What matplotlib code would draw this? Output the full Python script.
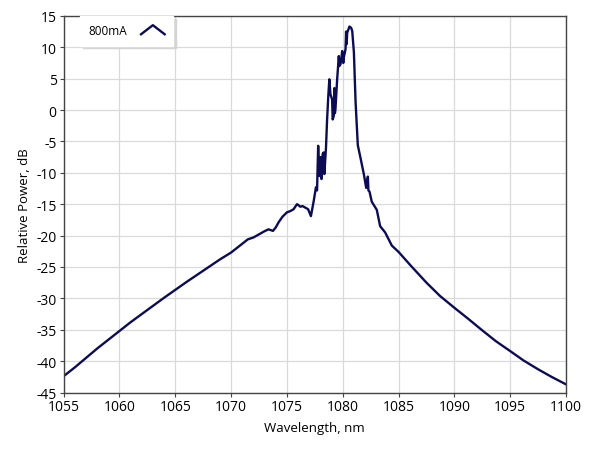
import matplotlib.pyplot as plt
from matplotlib.legend_handler import HandlerBase
from matplotlib.lines import Line2D

plt.rcParams['font.family'] = ['Open Sans', 'DejaVu Sans']
plt.rcParams['axes.unicode_minus'] = False

wavelength = [1055.0, 1056.0, 1057.0, 1058.0, 1059.0, 1060.0, 1061.0, 1062.0, 1063.0, 1064.0,
              1065.0, 1066.0, 1067.0, 1068.0, 1069.0, 1070.0, 1071.0, 1071.5, 1072.0, 1072.6,
              1073.0, 1073.35, 1073.75, 1074.0, 1074.25, 1074.6, 1075.0, 1075.3, 1075.6, 1075.9,
              1076.0, 1076.2, 1076.4, 1076.6, 1076.9, 1077.15, 1077.4, 1077.6, 1077.7, 1077.8,
              1077.9, 1078.0, 1078.05, 1078.1, 1078.2, 1078.3, 1078.35, 1078.4, 1078.5, 1078.6,
              1078.7, 1078.8, 1078.9, 1079.05, 1079.1, 1079.2, 1079.25, 1079.3, 1079.35, 1079.5,
              1079.65, 1079.7, 1079.8, 1079.9, 1079.95, 1080.05, 1080.1, 1080.25, 1080.3, 1080.35,
              1080.4, 1080.5, 1080.6, 1080.75, 1080.85, 1081.0, 1081.15, 1081.35, 1081.6, 1081.9,
              1082.1, 1082.25, 1082.3, 1082.4, 1082.6, 1083.05, 1083.35, 1083.8, 1084.4, 1085.0,
              1086.1, 1087.5, 1088.7, 1090.0, 1091.2, 1092.5, 1093.7, 1095.0, 1096.2, 1097.5,
              1098.7, 1100.0]
power_800mA = [-42.4, -41.0, -39.5, -38.0, -36.6, -35.2, -33.8, -32.5, -31.2, -29.9,
               -28.65, -27.4, -26.2, -25.0, -23.8, -22.7, -21.3, -20.6, -20.3, -19.7,
               -19.3, -19.0, -19.25, -18.7, -17.9, -17.0, -16.3, -16.1, -15.8, -15.0,
               -15.1, -15.4, -15.3, -15.5, -15.8, -16.9, -14.5, -12.3, -12.8, -5.7,
               -10.5, -7.5, -9.4, -11.0, -7.0, -6.75, -10.2, -8.9, -6.0, -1.5,
               2.0, 4.9, 2.5, 1.7, -1.5, -0.9, 3.5, -0.5, 0.2, 4.9,
               8.6, 7.0, 7.3, 8.6, 9.4, 7.5, 8.4, 9.7, 12.5, 10.5,
               12.3, 12.8, 13.3, 13.1, 12.6, 9.2, 1.3, -5.6, -7.7, -10.3,
               -12.4, -10.6, -12.8, -13.0, -14.6, -15.9, -18.5, -19.5, -21.6, -22.6,
               -24.8, -27.5, -29.6, -31.5, -33.2, -35.1, -36.8, -38.4, -39.9, -41.3,
               -42.5, -43.7]

xticks = list(range(1055, 1101, 5))
yticks = list(range(-45, 16, 5))
line_color = '#0c0c55'


class HandlerChevron(HandlerBase):
    def create_artists(self, legend, orig_handle, xdescent, ydescent,
                       width, height, fontsize, trans):
        x0 = -xdescent
        y0 = -ydescent
        ln = Line2D([x0, x0 + width / 2, x0 + width],
                    [y0, y0 + height * 1.1, y0],
                    color=orig_handle.get_color(), lw=orig_handle.get_linewidth())
        ln.set_transform(trans)
        return [ln]


fig = plt.figure(figsize=(5.89, 4.56), dpi=100)
ax = fig.add_axes([0.108, 0.137, 0.853, 0.826])

line, = ax.plot(wavelength, power_800mA, color=line_color, lw=1.7, label='800mA')

ax.set_xlim(1055, 1100)
ax.set_ylim(-45, 15)
ax.set_xticks(xticks)
ax.set_yticks(yticks)
ax.grid(True, color='#dadada', lw=0.9)
ax.set_axisbelow(True)
for sp in ax.spines.values():
    sp.set_color('#444444')
    sp.set_linewidth(1.0)
ax.tick_params(direction='out', length=3, color='#444444', labelsize=10, pad=2)
ax.set_xlabel('Wavelength, nm', fontsize=9.5, labelpad=5)
ax.set_ylabel('Relative Power, dB', fontsize=9.5, labelpad=4)

leg = ax.legend(handles=[line], loc='upper left', bbox_to_anchor=(80 / 589, 1 - 17 / 456),
                bbox_transform=fig.transFigure, handler_map={Line2D: HandlerChevron()},
                markerfirst=False, fontsize=8.5, fancybox=False, framealpha=1,
                edgecolor='white', borderpad=0.7, handlelength=2.0, handletextpad=1.2,
                borderaxespad=0, shadow={'color': '#d4d4d4', 'alpha': 1})
leg._legend_box.align = 'left'

fig.savefig('out.png', dpi=100)
